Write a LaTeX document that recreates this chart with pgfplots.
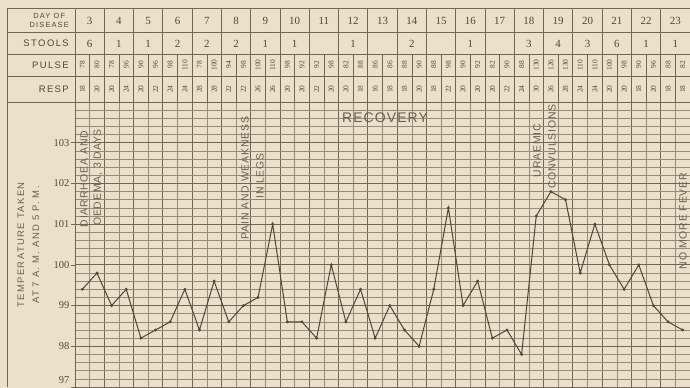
\documentclass[border=0pt]{standalone}
\usepackage{pgfplots}
\pgfplotsset{compat=1.18}
\usepackage{fontspec}
\setmainfont{Liberation Serif}
\newfontfamily\lsans[LetterSpace=15]{Liberation Sans}
\newfontfamily\asans[LetterSpace=8]{Liberation Sans}
\definecolor{paper}{RGB}{235,225,203}
\definecolor{ink}{RGB}{80,70,58}
\definecolor{gridc}{RGB}{115,100,84}
\definecolor{gridl}{RGB}{152,138,120}
\definecolor{textc}{RGB}{105,95,82}
\begin{document}
\begin{tikzpicture}[x=1bp,y=1bp]
\useasboundingbox (0,0) rectangle (690,387);
\fill[paper] (-2,-2) rectangle (692,389);
% ---------- temperature chart ----------
\begin{axis}[at={(75bp,0bp)}, anchor=south west, scale only axis,
  width=615bp, height=285bp,
  xmin=-0.5, xmax=41.5, ymin=97, ymax=104,
  xtick={-0.5,1.5,...,41.5}, minor xtick={0.5,2.5,...,40.5}, xticklabels={},
  ytick={97,98,...,104}, yticklabels={{},98,99,100,101,102,103,{}},
  minor y tick num=4,
  grid=both,
  major grid style={draw=gridc, line width=0.75bp},
  minor grid style={draw=gridl, line width=0.45bp},
  axis line style={draw=gridc, line width=1bp},
  tick pos=left, tick align=outside,
  xtick style={draw=none},
  ytick style={draw=gridc, line width=0.7bp},
  major tick length=4bp, minor tick length=0pt,
  yticklabel style={font=\fontsize{10.5}{10.5}\selectfont, text=ink, inner sep=1.5bp},
]
\addplot[ink, line width=1bp, mark=*, mark size=0.9bp, mark options={fill=ink}] coordinates {
(0,99.4) (1,99.8) (2,99.0) (3,99.4) (4,98.2) (5,98.4) (6,98.6) (7,99.4)
(8,98.4) (9,99.6) (10,98.6) (11,99.0) (12,99.2) (13,101.0) (14,98.6) (15,98.6)
(16,98.2) (17,100.0) (18,98.6) (19,99.4) (20,98.2) (21,99.0) (22,98.4) (23,98.0)
(24,99.4) (25,101.4) (26,99.0) (27,99.6) (28,98.2) (29,98.4) (30,97.8) (31,101.2)
(32,101.8) (33,101.6) (34,99.8) (35,101.0) (36,100.0) (37,99.4) (38,100.0) (39,99.0)
(40,98.6) (41,98.4)
};
\end{axis}
\node[anchor=east, text=ink, font=\fontsize{10.5}{10.5}\selectfont, inner sep=0pt] at (69.5,7) {97};
% ---------- table ----------
\draw[gridc, line width=1bp] (7,378) -- (690,378);
\draw[gridc, line width=0.9bp] (7,354.5) -- (690,354.5);
\draw[gridc, line width=0.9bp] (7,333) -- (690,333);
\draw[gridc, line width=0.9bp] (7,311) -- (690,311);
\draw[gridc, line width=1bp] (7,285) -- (690,285);
\draw[gridc, line width=1bp] (7,378) -- (7,0);
\draw[gridc, line width=1bp] (75,378) -- (75,285);
\foreach \k in {1,...,21} \draw[gridc, line width=0.85bp] ({75+29.2857*\k},378) -- ({75+29.2857*\k},285);
\foreach \k in {0,...,20} \draw[gridc, line width=0.5bp] ({75+29.2857*\k+14.643},333) -- ({75+29.2857*\k+14.643},285);
% row labels
\node[anchor=east, align=center, text=ink, font=\lsans\fontsize{7.5}{9}\selectfont, inner sep=0pt] at (69,366.5) {DAY OF\\DISEASE};
\node[anchor=east, text=ink, font=\lsans\fontsize{9.5}{9.5}\selectfont, inner sep=0pt] at (69,344) {STOOLS};
\node[anchor=east, text=ink, font=\lsans\fontsize{9.5}{9.5}\selectfont, inner sep=0pt] at (69,322) {PULSE};
\node[anchor=east, text=ink, font=\lsans\fontsize{9.5}{9.5}\selectfont, inner sep=0pt] at (69,298) {RESP};
% day numbers
\foreach \d [count=\i from 0] in {3,4,5,6,7,8,9,10,11,12,13,14,15,16,17,18,19,20,21,22,23}
  \node[text=ink, font=\fontsize{11}{11}\selectfont] at ({75+29.2857*(\i+0.5)},366) {\d};
% stools
\foreach \s [count=\i from 0] in {6,1,1,2,2,2,1,1,{},1,{},2,{},1,{},3,4,3,6,1,1}
  \node[text=ink, font=\fontsize{11}{11}\selectfont] at ({75+29.2857*(\i+0.5)},343) {\s};
% pulse
\foreach \v [count=\i from 0] in {78,80,78,96,90,96,98,110,78,100,94,98,100,110,98,92,92,98,82,88,86,86,88,90,88,98,90,92,82,90,88,130,126,130,110,110,100,98,90,96,88,82}
  \node[rotate=90, text=ink, font=\fontsize{7.5}{7.5}\selectfont, inner sep=0pt] at ({75+14.643*(\i+0.5)},322) {\v};
% resp
\foreach \v [count=\i from 0] in {18,20,20,24,20,22,24,24,28,28,22,22,26,26,20,20,22,20,20,18,16,18,18,20,18,22,20,20,20,22,24,30,26,28,24,24,20,20,18,20,18,18}
  \node[rotate=90, text=ink, font=\fontsize{7.5}{7.5}\selectfont, inner sep=0pt] at ({75+14.643*(\i+0.5)},298) {\v};
% y label
\node[rotate=90, text=textc, font=\lsans\fontsize{9.5}{9.5}\selectfont, inner sep=0pt] at (21,142) {TEMPERATURE TAKEN};
\node[rotate=90, text=textc, font=\lsans\fontsize{9.5}{9.5}\selectfont, inner sep=0pt] at (36,142) {AT 7 A. M. AND 5 P. M.};
% annotations
\node[rotate=90, text=textc, font=\asans\fontsize{10.5}{10.5}\selectfont, inner sep=0pt] at (84,208) {DIARRHOEA AND};
\node[rotate=90, text=textc, font=\asans\fontsize{10.5}{10.5}\selectfont, inner sep=0pt] at (98,209.5) {OEDEMA, 3 DAYS};
\node[rotate=90, text=textc, font=\asans\fontsize{10.5}{10.5}\selectfont, inner sep=0pt] at (245,209) {PAIN AND WEAKNESS};
\node[rotate=90, text=textc, font=\asans\fontsize{10.5}{10.5}\selectfont, inner sep=0pt] at (260,211) {IN LEGS};
\node[text=textc, font=\asans\fontsize{14}{14}\selectfont, inner sep=0pt] at (385,269.5) {RECOVERY};
\node[rotate=90, text=textc, font=\asans\fontsize{10.5}{10.5}\selectfont, inner sep=0pt] at (537,236.5) {URAEMIC};
\node[rotate=90, text=textc, font=\asans\fontsize{10.5}{10.5}\selectfont, inner sep=0pt] at (552,240.5) {CONVULSIONS};
\node[rotate=90, text=textc, font=\asans\fontsize{10.5}{10.5}\selectfont, inner sep=0pt] at (683,166) {NO MORE FEVER};
\end{tikzpicture}
\end{document}
